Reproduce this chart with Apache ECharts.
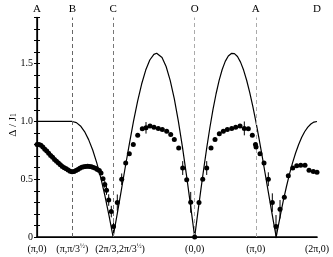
<!DOCTYPE html>
<html><head><meta charset="utf-8">
<script src="https://cdn.jsdelivr.net/npm/echarts@6/dist/echarts.min.js"></script>
<style>html,body{margin:0;padding:0;background:#fff}#c{width:333px;height:257px}</style>
</head><body><div id="c"></div>
<script>
// path positions (cumulative |k| along A-B-C-O-A-D)
const pathPos = [0, 1.814, 3.908, 8.097, 11.239, 14.380];
const topLabels = ['A', 'B', 'C', 'O', 'A', 'D'];
const bottomLabels = ['(π,0)', '(π,π/3½)', '(2π/3,2π/3½)', '(0,0)', '(π,0)', '(2π,0)'];
const guidePos = [1.814, 3.908, 8.097, 11.239];
const yTicks = [0, 0.5, 1.0, 1.5];
const yName = ['Δ / J', '1'];

// theory curve
const lineX = [0, 1.814, 2.023, 2.233, 2.442, 2.651, 2.861, 3.070, 3.280, 3.489, 3.699, 3.803, 3.908,
  4.118, 4.327, 4.536, 4.746, 4.955, 5.165, 5.374, 5.584, 5.793, 6.003, 6.145, 6.212, 6.421, 6.631, 6.840, 7.050, 7.259, 7.469, 7.678, 7.888,
  8.097, 8.254, 8.411, 8.568, 8.725, 8.882, 9.039, 9.197, 9.354, 9.511, 9.668, 9.825, 9.982, 10.048, 10.139, 10.296, 10.453, 10.610, 10.767, 10.924, 11.081,
  11.239, 11.396, 11.553, 11.710, 11.867, 12.024, 12.181, 12.286, 12.338, 12.495, 12.652, 12.809, 12.966, 13.124, 13.281, 13.438, 13.595, 13.752, 13.909, 14.066, 14.223, 14.380];
const lineY = [1.0, 1.0, 0.990, 0.961, 0.913, 0.843, 0.753, 0.642, 0.509, 0.357, 0.186, 0.095, 0,
  0.198, 0.402, 0.608, 0.809, 1.0, 1.174, 1.324, 1.445, 1.532, 1.581, 1.591, 1.589, 1.554, 1.476, 1.356, 1.197, 1.003, 0.780, 0.533, 0.271,
  0, 0.204, 0.404, 0.597, 0.780, 0.950, 1.104, 1.240, 1.356, 1.450, 1.520, 1.567, 1.589, 1.591, 1.587, 1.562, 1.514, 1.445, 1.357, 1.252, 1.132,
  1.0, 0.858, 0.710, 0.556, 0.402, 0.248, 0.097, 0, 0.048, 0.186, 0.316, 0.435, 0.544, 0.642, 0.727, 0.801, 0.863, 0.913, 0.951, 0.978, 0.995, 1.0];

// data points
const dataX = [0, 0.1, 0.2, 0.3, 0.4, 0.5, 0.6, 0.7, 0.8, 0.9, 1.0, 1.1, 1.2, 1.3, 1.4, 1.5, 1.6, 1.7, 1.8, 1.9,
  2.0, 2.1, 2.2, 2.3, 2.4, 2.5, 2.6, 2.7, 2.8, 2.9, 3.0, 3.1,
  3.200, 3.287, 3.390, 3.482, 3.570, 3.683, 3.816, 3.929,
  4.124, 4.350, 4.556, 4.741, 4.946, 5.172, 5.408, 5.598, 5.804, 6.009, 6.230, 6.436, 6.661, 6.867, 7.052, 7.278, 7.483, 7.689, 7.894,
  8.097, 8.320, 8.511, 8.716, 8.937, 9.142, 9.363, 9.569, 9.774, 10.000, 10.205, 10.426, 10.647, 10.853, 11.058, 11.22, 11.25,
  11.454, 11.659, 11.880, 12.085, 12.275, 12.481, 12.702, 12.907, 13.133, 13.338, 13.544, 13.765, 13.970, 14.191, 14.38];
const dataY = [0.80, 0.80, 0.795, 0.78, 0.76, 0.745, 0.725, 0.705, 0.69, 0.67, 0.655, 0.64, 0.625, 0.61, 0.60, 0.59, 0.58, 0.57, 0.565, 0.567,
  0.575, 0.585, 0.595, 0.603, 0.608, 0.611, 0.612, 0.611, 0.608, 0.602, 0.595, 0.585,
  0.575, 0.554, 0.505, 0.455, 0.405, 0.32, 0.22, 0.09,
  0.298, 0.50, 0.64, 0.72, 0.80, 0.88, 0.937, 0.945, 0.96, 0.95, 0.94, 0.93, 0.916, 0.887, 0.843, 0.77, 0.597, 0.496, 0.30,
  0, 0.298, 0.50, 0.597, 0.77, 0.843, 0.893, 0.916, 0.93, 0.94, 0.95, 0.96, 0.94, 0.937, 0.88, 0.80, 0.78,
  0.72, 0.64, 0.50, 0.298, 0.09, 0.24, 0.345, 0.53, 0.597, 0.617, 0.62, 0.62, 0.577, 0.568, 0.56];
const dataErr = [0, 0, 0, 0, 0, 0, 0, 0, 0, 0, 0, 0, 0, 0, 0, 0, 0, 0, 0, 0,
  0, 0, 0, 0, 0, 0, 0, 0, 0, 0, 0, 0,
  0, 0, 0, 0.03, 0.04, 0.05, 0.05, 0.07,
  0.07, 0.05, 0, 0, 0, 0, 0, 0.05, 0, 0, 0, 0, 0, 0, 0, 0, 0.06, 0, 0.09,
  0, 0, 0, 0.06, 0, 0, 0, 0, 0, 0, 0, 0, 0.06, 0, 0, 0, 0,
  0, 0, 0.06, 0.08, 0.1, 0.08, 0, 0, 0, 0, 0, 0, 0, 0, 0];

const FONT = "'Liberation Serif','Times New Roman',serif";
const linePts = lineX.map((x, i) => [x, lineY[i]]);
const pts = dataX.map((x, i) => [x, dataY[i]]);
const errPts = dataX.map((x, i) => [x, dataY[i], dataErr[i]]).filter(d => d[2] > 0);
const guideColors = ['#666', '#777', '#aaa', '#aaa'];

function nearestIdx(v) {
  let b = 0;
  pathPos.forEach((p, i) => { if (Math.abs(p - v) < Math.abs(pathPos[b] - v)) b = i; });
  return b;
}
function supFmt(s, idx) {
  const body = s.split('½').map(p => '{n|' + p + '}').join('{s|½}');
  return idx === 2 ? '{g| }' + body : body;
}
const isMajor = v => yTicks.some(t => Math.abs(t - v) < 1e-6);

const chart = echarts.init(document.getElementById('c'), null, {renderer: 'canvas'});
chart.setOption({
  animation: false,
  backgroundColor: '#fff',
  grid: {left: 37, right: 16, top: 17.5, bottom: 20, containLabel: false, outerBoundsMode: 'none'},
  graphic: [{
    type: 'text', x: 13, y: 125, rotation: Math.PI / 2, silent: true,
    style: {
      text: '{n|' + yName[0] + '}{s|' + yName[1] + '}',
      align: 'center', verticalAlign: 'middle',
      rich: {
        n: {fontFamily: FONT, fontSize: 11, fill: '#000'},
        s: {fontFamily: FONT, fontSize: 7.5, fill: '#000', verticalAlign: 'bottom'}
      }
    }
  }],
  xAxis: [{
    type: 'value', min: 0, max: 14.380, position: 'bottom',
    axisLine: {lineStyle: {color: '#000', width: 1.5}},
    axisTick: {show: false}, splitLine: {show: false},
    axisLabel: {
      customValues: pathPos, margin: 6, color: '#000',
      formatter: v => { const i = nearestIdx(v); return supFmt(bottomLabels[i], i); },
      rich: {
        n: {fontFamily: FONT, fontSize: 10, color: '#000', lineHeight: 12},
        s: {fontFamily: FONT, fontSize: 6.5, color: '#000', verticalAlign: 'top', lineHeight: 12},
        g: {fontSize: 10, width: 14, lineHeight: 12}
      }
    }
  }, {
    type: 'value', min: 0, max: 14.380, position: 'top',
    axisLine: {lineStyle: {color: '#000', width: 1.2}},
    axisTick: {show: false}, splitLine: {show: false},
    axisLabel: {
      customValues: pathPos, margin: 3, color: '#000', fontFamily: FONT, fontSize: 11,
      formatter: v => topLabels[nearestIdx(v)]
    }
  }],
  yAxis: [{
    type: 'value', min: 0, max: 1.9, interval: 0.1, position: 'left',
    axisLine: {lineStyle: {color: '#000', width: 1.5}},
    axisTick: {inside: true, length: 3, lineStyle: {color: '#000'}},
    splitLine: {show: false},
    axisLabel: {
      margin: 4, color: '#000', fontFamily: FONT, fontSize: 10,
      formatter: v => isMajor(v) ? (Math.abs(v) < 1e-9 ? '0' : v.toFixed(1)) : ''
    }
  }, {
    type: 'value', min: 0, max: 1.9, interval: 0.1, position: 'right',
    axisLine: {show: true, lineStyle: {color: '#000', width: 1.2}},
    axisTick: {inside: true, length: 3, lineStyle: {color: '#000'}},
    splitLine: {show: false}, axisLabel: {show: false}
  }],
  series: [{
    type: 'line', data: linePts, showSymbol: false, symbol: 'none',
    lineStyle: {color: '#000', width: 1.2}, z: 3, silent: true,
    markLine: {
      silent: true, symbol: 'none', label: {show: false},
      data: guidePos.map((p, i) => ({xAxis: p, lineStyle: {color: guideColors[i], type: [4, 3], width: 1}}))
    }
  }, {
    type: 'custom', data: errPts, z: 4, silent: true,
    renderItem: (params, api) => {
      const x = api.value(0), y = api.value(1), e = api.value(2);
      const p1 = api.coord([x, y - e]), p2 = api.coord([x, y + e]);
      return {type: 'line', shape: {x1: p1[0], y1: p1[1], x2: p2[0], y2: p2[1]}, style: {stroke: '#000', lineWidth: 1}};
    }
  }, {
    type: 'scatter', data: pts, symbol: 'circle', symbolSize: 5,
    itemStyle: {color: '#000', opacity: 1}, z: 5, silent: true
  }]
});
</script></body></html>
